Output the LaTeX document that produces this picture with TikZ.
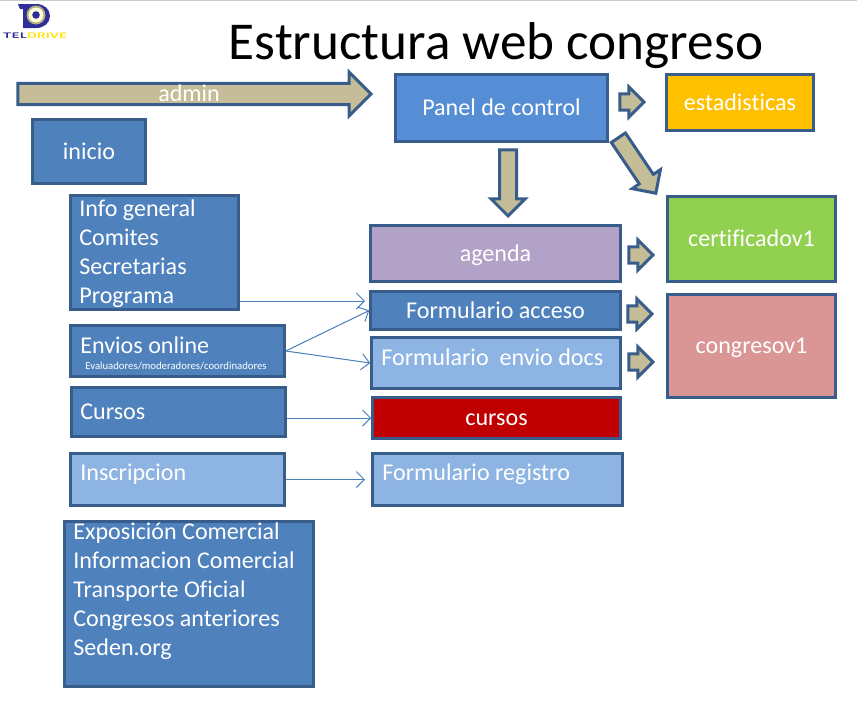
\documentclass[tikz,border=0pt]{standalone}
\usepackage{fontspec}
\setmainfont[Ligatures=NoCommon]{Carlito}
\usepackage{xcolor}
\usetikzlibrary{arrows.meta,shapes.arrows}
\definecolor{boxline}{HTML}{385D8A}
\definecolor{boxblue}{HTML}{4F81BD}
\definecolor{boxpanel}{HTML}{558ED5}
\definecolor{boxlight}{HTML}{8EB4E3}
\definecolor{boxpurple}{HTML}{B3A2C7}
\definecolor{boxred}{HTML}{C00000}
\definecolor{boxamber}{HTML}{FFC000}
\definecolor{boxgreen}{HTML}{92D050}
\definecolor{boxpink}{HTML}{D99694}
\definecolor{arrowsand}{HTML}{C4BD97}
\definecolor{linkblue}{HTML}{4A7EBB}
\definecolor{logonavy}{HTML}{2E2E9A}
\tikzset{
  sized/.style 2 args={minimum width=(#1+1.5)*0.02cm,minimum height=(#2+1.5)*0.02cm},
  panelbox/.style={draw=boxline,line width=0.06cm,text=white,inner sep=0pt,text height=12pt,text depth=3pt,font=\fontsize{13.7}{16.5}\selectfont},
  boxtext/.style={text=white,inner sep=0pt,align=left,anchor=west,font=\fontsize{13.7}{16.5}\selectfont},
  blockarrow/.style={single arrow,draw=boxline,fill=arrowsand,line width=0.06cm,inner xsep=0pt,inner ysep=0.14cm,anchor=tip},
  smallblock/.style={blockarrow,inner ysep=0.12cm,minimum height=0.48cm,minimum width=0.60cm,single arrow head extend=0.13cm},
  link/.style={->,draw=linkblue,line width=0.02cm},
}
\begin{document}
\begin{tikzpicture}[x=0.02cm,y=-0.02cm,>={Straight Barb[length=1.6mm,width=3.2mm]}]
\useasboundingbox (0,0) rectangle (857,700);
\draw[gray!40,line width=0.02cm] (0,0.5) -- (857,0.5);
\node[anchor=base,font=\fontsize{30.3}{34}\selectfont] (title) at (496,59) {Estructura web congreso};
\fill[logonavy] (18,4) -- (36,4) .. controls (44,4) and (50,9) .. (50,16) .. controls (50,23) and (44,28) .. (36,28) -- (23,28) -- (23,9) -- (20,9) -- cycle;
\fill[gray!70!yellow] (36,15) circle (9.5);
\fill[yellow!15] (36,15) circle (7.5);
\fill[logonavy] (36,15) circle (3.8);
\node[anchor=west,inner sep=0pt,font=\sffamily\bfseries\fontsize{4.6}{5}\selectfont,xscale=1.55] (logotext) at (2,36) {\textcolor{logonavy}{TEL}\textcolor{yellow!85!orange}{DRIVE}};
\node[panelbox,fill=boxpanel,sized={210}{65}] (panel) at (501.5,108) {Panel de control};
\node[panelbox,fill=boxamber,sized={145}{54}] (estadisticas) at (740,102.5) {estadisticas};
\node[panelbox,fill=boxgreen,sized={166}{83}] (certificado) at (751.5,239) {certificadov1};
\node[panelbox,fill=boxpink,sized={166}{101}] (congreso) at (751.5,346) {congresov1};
\node[panelbox,fill=boxpurple,sized={248}{54}] (agenda) at (495.5,253.5) {agenda};
\node[panelbox,fill=boxblue,sized={248}{36}] (acceso) at (495.5,310.5) {Formulario acceso};
\node[panelbox,fill=boxlight,sized={247}{49}] (docs) at (496,363) {};
\node[boxtext] (docstext) at (381,357) {Formulario\ \ envio docs};
\node[panelbox,fill=boxred,sized={246}{39}] (cursosred) at (496.5,418) {cursos};
\node[panelbox,fill=boxlight,sized={248}{50}] (registro) at (497.5,479.5) {};
\node[boxtext] (registrotext) at (382,474) {Formulario registro};
\node[panelbox,fill=boxblue,sized={111}{62}] (inicio) at (89,151.5) {inicio};
\node[panelbox,fill=boxblue,sized={166}{112}] (info) at (154.5,252.5) {};
\node[boxtext] (infotext) at (79,253.5) {Info general\\Comites\\Secretarias\\Programa};
\node[panelbox,fill=boxblue,sized={212}{49}] (envios) at (177.5,351) {};
\node[boxtext] (enviostext) at (80,345) {Envios online};
\node[boxtext,font=\fontsize{6.1}{8}\selectfont] (evaluadores) at (85,366) {Evaluadores/moderadores/coordinadores};
\node[panelbox,fill=boxblue,sized={212}{47}] (cursosbox) at (178.5,412) {};
\node[boxtext] (cursostext) at (80,412) {Cursos};
\node[panelbox,fill=boxlight,sized={212}{50}] (inscripcion) at (177.5,479.5) {};
\node[boxtext] (inscripciontext) at (80,474) {Inscripcion};
\node[panelbox,fill=boxblue,sized={247}{163}] (expo) at (189,604) {};
\node[boxtext] (expotext) at (73,591) {Exposición Comercial\\Informacion Comercial\\Transporte Oficial\\Congresos anteriores\\Seden.org};
\node[blockarrow,text=white,font=\fontsize{13.7}{14}\selectfont,inner ysep=0pt,text depth=1pt,minimum height=7.06cm,minimum width=0.80cm,single arrow head extend=0.22cm] (admin) at (373,94) {admin};
\node[smallblock] (toestadisticas) at (646,102) {};
\node[smallblock] (tocertificado) at (655,255) {};
\node[smallblock] (toacceso) at (654,314) {};
\node[smallblock] (todocs) at (655,362) {};
\node[blockarrow,rotate=-90,minimum height=1.32cm,minimum width=0.66cm,single arrow head extend=0.17cm] (toagenda) at (508,218) {};
\node[blockarrow,rotate=-56,minimum height=1.34cm,minimum width=0.66cm,single arrow head extend=0.17cm] (tocert) at (657,195) {};
\coordinate (infoend) at (365,301);
\coordinate (registroend) at (365,479.5);
\draw[link] (info.east |- infoend) -- (infoend);
\draw[link] (envios.east) -- (acceso.west);
\draw[link] (envios.east) -- (docs.west);
\draw[link] (cursosbox.east |- cursosred.west) -- (cursosred.west);
\draw[link] (inscripcion.east) -- (registroend);
\end{tikzpicture}
\end{document}
